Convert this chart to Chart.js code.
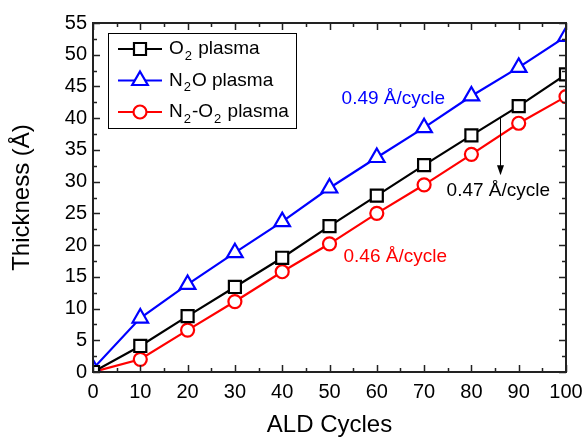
<!DOCTYPE html>
<html>
<head>
<meta charset="utf-8">
<script src="https://cdn.jsdelivr.net/npm/chart.js@4.4.0/dist/chart.umd.min.js"></script>
<style>
    html, body { margin: 0; padding: 0; background: #fff; }
    #wrap { width: 584px; height: 437px; }
</style>
</head>
<body>
<div id="wrap"><canvas id="thickness-chart" width="584" height="437"></canvas></div>
<script>
// Data
const cycles = [0, 10, 20, 30, 40, 50, 60, 70, 80, 90, 100];
const o2Thickness = [0, 4.1, 8.8, 13.4, 18.0, 23.0, 27.8, 32.6, 37.3, 41.9, 46.9];
const n2oThickness = [0.5, 8.5, 13.8, 18.8, 23.7, 29.0, 33.8, 38.5, 43.5, 48.0, 52.9];
const n2o2Thickness = [0, 2.0, 6.6, 11.1, 15.8, 20.2, 25.0, 29.5, 34.3, 39.2, 43.4];
const seriesLabels = ['O₂ plasma', 'N₂O plasma', 'N₂-O₂ plasma'];
const xTickValues = [0, 10, 20, 30, 40, 50, 60, 70, 80, 90, 100];
const yTickValues = [0, 5, 10, 15, 20, 25, 30, 35, 40, 45, 50, 55];
const rateLabels = ['0.49 Å/cycle', '0.47 Å/cycle', '0.46 Å/cycle'];

const FONT = '"Liberation Sans", Arial, Helvetica, sans-serif';

// Annotation placement (data coordinates)
const annotations = [
    { text: rateLabels[0], x: 63.5, y: 43.1, color: '#0000ff' },
    { text: rateLabels[1], x: 85.7, y: 28.6, color: '#000000' },
    { text: rateLabels[2], x: 63.9, y: 18.2, color: '#ff0000' }
];

function makeDataset(label, values, color, style, radius) {
    return {
        label: label,
        data: cycles.map((c, i) => ({ x: c, y: values[i] })),
        borderColor: color,
        backgroundColor: '#ffffff',
        borderWidth: 2.2,
        pointStyle: style,
        pointRadius: radius,
        pointBorderWidth: 2.2,
        pointBorderColor: color,
        pointBackgroundColor: '#ffffff',
        tension: 0,
        clip: 0
    };
}

// Draw text with "₂" rendered as a lowered small 2
function drawSubText(ctx, text, x, y, size) {
    const parts = text.split('₂');
    let cx = x;
    parts.forEach((part, i) => {
        ctx.font = size + 'px ' + FONT;
        ctx.fillText(part, cx, y);
        cx += ctx.measureText(part).width;
        if (i < parts.length - 1) {
            ctx.font = Math.round(size * 0.7) + 'px ' + FONT;
            ctx.fillText('2', cx + 1, y + size * 0.38);
            cx += ctx.measureText('2').width + 2;
        }
    });
}

const framePlugin = {
    id: 'frame',
    afterDatasetsDraw(chart) {
        const ctx = chart.ctx;
        const xs = chart.scales.x;
        const ys = chart.scales.y;
        const area = chart.chartArea;
        ctx.save();
        ctx.strokeStyle = '#222';
        ctx.lineWidth = 1.5;

        // Inward ticks on all four sides
        ctx.beginPath();
        xTickValues.forEach((v, i) => {
            const px = Math.round(xs.getPixelForValue(v)) + 0.5;
            ctx.moveTo(px, area.bottom); ctx.lineTo(px, area.bottom - 7);
            ctx.moveTo(px, area.top); ctx.lineTo(px, area.top + 7);
            if (i < xTickValues.length - 1) {
                const mx = Math.round(xs.getPixelForValue((v + xTickValues[i + 1]) / 2)) + 0.5;
                ctx.moveTo(mx, area.bottom); ctx.lineTo(mx, area.bottom - 4);
                ctx.moveTo(mx, area.top); ctx.lineTo(mx, area.top + 4);
            }
        });
        yTickValues.forEach((v, i) => {
            const py = Math.round(ys.getPixelForValue(v)) + 0.5;
            ctx.moveTo(area.left, py); ctx.lineTo(area.left + 7, py);
            ctx.moveTo(area.right, py); ctx.lineTo(area.right - 7, py);
            if (i < yTickValues.length - 1) {
                const my = Math.round(ys.getPixelForValue((v + yTickValues[i + 1]) / 2)) + 0.5;
                ctx.moveTo(area.left, my); ctx.lineTo(area.left + 4, my);
                ctx.moveTo(area.right, my); ctx.lineTo(area.right - 4, my);
            }
        });
        ctx.stroke();

        // Box
        ctx.lineWidth = 2;
        ctx.strokeRect(area.left, area.top, area.right - area.left, area.bottom - area.top);

        // Rate annotations
        ctx.textAlign = 'center';
        ctx.textBaseline = 'middle';
        ctx.font = '19px ' + FONT;
        annotations.forEach(a => {
            ctx.fillStyle = a.color;
            ctx.fillText(a.text, xs.getPixelForValue(a.x), ys.getPixelForValue(a.y));
        });

        // Arrow towards the label below
        const ax = Math.round(xs.getPixelForValue(86.1)) + 0.5;
        const ay1 = ys.getPixelForValue(40.1);
        const ay2 = ys.getPixelForValue(31.0);
        ctx.strokeStyle = '#000';
        ctx.fillStyle = '#000';
        ctx.lineWidth = 1;
        ctx.beginPath();
        ctx.moveTo(ax, ay1);
        ctx.lineTo(ax, ay2 - 6);
        ctx.stroke();
        ctx.beginPath();
        ctx.moveTo(ax - 3.5, ay2 - 10);
        ctx.lineTo(ax + 3.5, ay2 - 10);
        ctx.lineTo(ax, ay2);
        ctx.closePath();
        ctx.fill();

        // Legend box
        const lx = area.left + 15, ly = area.top + 10, lw = 188, lh = 95;
        ctx.lineWidth = 1;
        ctx.strokeStyle = '#000';
        ctx.fillStyle = '#fff';
        ctx.fillRect(lx, ly, lw, lh);
        ctx.strokeRect(lx + 0.5, ly + 0.5, lw, lh);
        chart.data.datasets.forEach((ds, i) => {
            const rowY = ly + 16 + i * 31.5;
            ctx.strokeStyle = ds.borderColor;
            ctx.lineWidth = 2.2;
            ctx.beginPath();
            ctx.moveTo(lx + 10, rowY);
            ctx.lineTo(lx + 54, rowY);
            ctx.stroke();
            ctx.fillStyle = '#fff';
            Chart.helpers.drawPoint(ctx, {
                pointStyle: ds.pointStyle,
                radius: ds.pointRadius,
                borderWidth: 2.2,
                rotation: 0
            }, lx + 32, rowY);
            ctx.fillStyle = '#000';
            ctx.textAlign = 'left';
            ctx.textBaseline = 'middle';
            drawSubText(ctx, ds.label, lx + 61, rowY, 19);
        });
        ctx.restore();
    }
};

const ctx = document.getElementById('thickness-chart');
new Chart(ctx, {
    type: 'line',
    data: {
        datasets: [
            makeDataset(seriesLabels[0], o2Thickness, '#000000', 'rect', 8.5),
            makeDataset(seriesLabels[1], n2oThickness, '#0000ff', 'triangle', 9),
            makeDataset(seriesLabels[2], n2o2Thickness, '#ff0000', 'circle', 6.5)
        ]
    },
    options: {
        responsive: false,
        animation: false,
        layout: { padding: { top: 23, right: 18, left: 0, bottom: 0 } },
        plugins: {
            legend: { display: false },
            tooltip: { enabled: false }
        },
        scales: {
            x: {
                type: 'linear',
                min: 0,
                max: 100,
                afterBuildTicks: scale => { scale.ticks = xTickValues.map(v => ({ value: v })); },
                afterFit: scale => {
                    scale.height = 65;
                    scale.paddingLeft = 0;
                    scale.paddingRight = 0;
                },
                grid: { display: false, drawTicks: false },
                border: { display: false },
                ticks: {
                    color: '#000',
                    padding: 8,
                    maxRotation: 0,
                    font: { family: FONT, size: 20 }
                },
                title: {
                    display: true,
                    text: 'ALD Cycles',
                    color: '#000',
                    font: { family: FONT, size: 24, lineHeight: 1 },
                    padding: { top: 0, bottom: 0 }
                }
            },
            y: {
                type: 'linear',
                min: 0,
                max: 55,
                afterBuildTicks: scale => { scale.ticks = yTickValues.map(v => ({ value: v })); },
                afterFit: scale => {
                    scale.width = 93;
                    scale.paddingTop = 0;
                    scale.paddingBottom = 0;
                },
                grid: { display: false, drawTicks: false },
                border: { display: false },
                ticks: {
                    color: '#000',
                    padding: 6,
                    font: { family: FONT, size: 20 }
                },
                title: {
                    display: true,
                    text: 'Thickness (Å)',
                    color: '#000',
                    font: { family: FONT, size: 24, lineHeight: 1 },
                    padding: { top: 10, bottom: 0 }
                }
            }
        }
    },
    plugins: [framePlugin]
});
</script>
</body>
</html>
